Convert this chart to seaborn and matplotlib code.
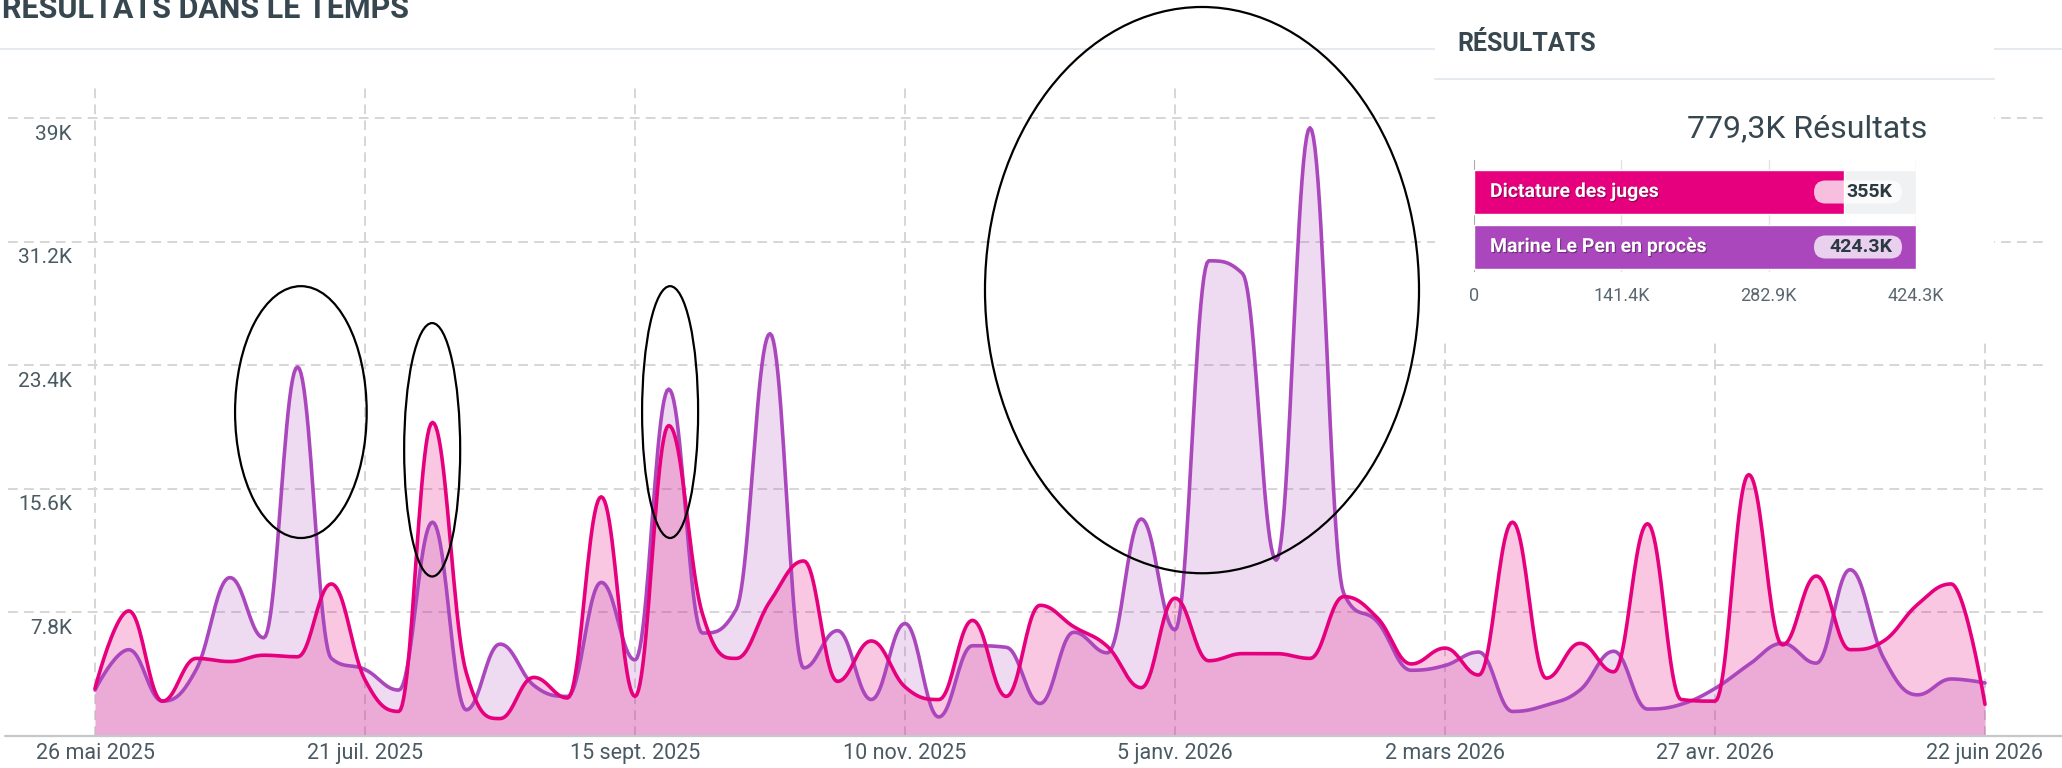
import numpy as np
import pandas as pd
import matplotlib
matplotlib.use("Agg")
import matplotlib.pyplot as plt
import matplotlib.dates as mdates
import matplotlib.patheffects as pe
from matplotlib.patches import Ellipse, Rectangle, FancyBboxPatch
from matplotlib.lines import Line2D
from matplotlib.transforms import IdentityTransform
import seaborn as sns

# weekly data, 26 mai 2025 -> 22 juin 2026
dates = pd.date_range("2025-05-26", "2026-06-22", freq="7D")

# "Dictature des juges" (K results per week)
dictature = [3.0, 7.9, 2.2, 4.9, 4.7, 5.1, 5.0, 9.6, 3.55, 1.55,
             19.8, 4.0, 1.1, 3.7, 2.4, 15.1, 2.5, 19.6, 7.7, 4.9,
             8.5, 11.05, 3.45, 6.0, 3.1, 2.3, 7.3, 2.5, 8.25, 6.9,
             5.65, 3.05, 8.7, 4.75, 5.2, 5.2, 4.9, 8.8, 7.45, 4.55,
             5.55, 3.85, 13.5, 3.65, 5.85, 4.05, 13.4, 2.3, 2.2, 16.5,
             5.75, 10.1, 5.45, 6.0, 8.3, 9.6, 2.0]
# "Marine Le Pen en procès"
marine = [2.9, 5.45, 2.2, 4.2, 10.0, 6.2, 23.3, 4.9, 4.2, 2.9,
          13.5, 1.65, 5.8, 3.2, 2.5, 9.7, 4.8, 21.9, 6.5, 8.0,
          25.4, 4.3, 6.65, 2.3, 7.1, 1.2, 5.7, 5.6, 2.05, 6.55,
          5.25, 13.7, 6.7, 30.0, 29.2, 11.1, 38.4, 9.0, 7.2, 4.15,
          4.45, 5.3, 1.55, 1.95, 2.9, 5.35, 1.7, 2.0, 3.0, 4.5,
          5.85, 4.6, 10.5, 4.9, 2.6, 3.6, 3.35]

names = ["Dictature des juges", "Marine Le Pen en procès"]
totals = [355000, 424300]
total_labels = ["355K", "424.3K"]
bar_ticks = [0, 141400, 282900, 424300]
bar_tick_labels = ["0", "141.4K", "282.9K", "424.3K"]

tick_labels = ["26 mai 2025", "21 juil. 2025", "15 sept. 2025", "10 nov. 2025",
               "5 janv. 2026", "2 mars 2026", "27 avr. 2026", "22 juin 2026"]
y_ticks = [7800, 15600, 23400, 31200, 39000]
y_tick_labels = ["7.8K", "15.6K", "23.4K", "31.2K", "39K"]

# hand-drawn circles: (week, value, width in weeks, height)
circles = [(6.1, 20450, 3.9, 15900), (9.99, 18070, 1.66, 16000),
           (17.04, 20450, 1.66, 15900), (32.8, 28150, 12.86, 35750)]

PINK = "#e6007e"
PURPLE = "#ab47bc"
TXT = "#37474f"
GRID = "#d6d6d6"


def hc_spline(x, y, smoothing=1.5, n=24):
    # same control points as a highcharts 'spline' series
    x = np.asarray(x, float)
    y = np.asarray(y, float)
    lcx, lcy, rcx, rcy = x.copy(), y.copy(), x.copy(), y.copy()
    d = smoothing + 1
    for i in range(1, len(x) - 1):
        px, py = x[i], y[i]
        lx = (smoothing * px + x[i - 1]) / d
        ly = (smoothing * py + y[i - 1]) / d
        rx = (smoothing * px + x[i + 1]) / d
        ry = (smoothing * py + y[i + 1]) / d
        if rx != lx:
            corr = (ry - ly) * (rx - px) / (rx - lx) + py - ry
            ly += corr
            ry += corr
        if ly > y[i - 1] and ly > py:
            ly = max(y[i - 1], py); ry = 2 * py - ly
        elif ly < y[i - 1] and ly < py:
            ly = min(y[i - 1], py); ry = 2 * py - ly
        if ry > y[i + 1] and ry > py:
            ry = max(y[i + 1], py); ly = 2 * py - ry
        elif ry < y[i + 1] and ry < py:
            ry = min(y[i + 1], py); ly = 2 * py - ry
        lcx[i], lcy[i], rcx[i], rcy[i] = lx, ly, rx, ry
    t = np.linspace(0, 1, n)[:, None]
    out = []
    for i in range(1, len(x)):
        p0 = np.array([x[i - 1], y[i - 1]])
        p1 = np.array([rcx[i - 1], rcy[i - 1]])
        p2 = np.array([lcx[i], lcy[i]])
        p3 = np.array([x[i], y[i]])
        seg = ((1 - t) ** 3) * p0 + 3 * ((1 - t) ** 2) * t * p1 + 3 * (1 - t) * t ** 2 * p2 + t ** 3 * p3
        out.append(seg if i == 1 else seg[1:])
    out = np.vstack(out)
    return out[:, 0], out[:, 1]


sns.set_theme(style="white")
plt.rcParams["font.family"] = ["Roboto", "DejaVu Sans"]

W, H = 2062, 768
fig = plt.figure(figsize=(W / 100, H / 100), dpi=100)


def fx(px):
    return px / W


def fy(py):
    return 1 - py / H


ax = fig.add_axes([fx(8), fy(736), 2040 / W, 651 / H])
ax.patch.set_visible(False)

xs = mdates.date2num(dates)
x0 = xs[0]
pxd = 33.75 / 7  # pixels per day

frames = []
curves = {}
for name, vals in [(names[1], marine), (names[0], dictature)]:
    sx, sy = hc_spline(xs, np.array(vals) * 1000)
    curves[name] = (sx, sy)
    frames.append(pd.DataFrame({"x": sx, "value": sy, "serie": name}))
df = pd.concat(frames, ignore_index=True)

ax.fill_between(*curves[names[1]], 0, color=PURPLE, alpha=0.2, lw=0, zorder=1)
ax.fill_between(*curves[names[0]], 0, color=PINK, alpha=0.22, lw=0, zorder=1.1)
sns.lineplot(data=df, x="x", y="value", hue="serie",
             hue_order=[names[1], names[0]], palette=[PURPLE, PINK],
             estimator=None, sort=False, lw=2.6, legend=False, ax=ax, zorder=3)

ax.set_xlim(x0 - 87 / pxd, x0 + 1953 / pxd)
ax.set_ylim(0, 41100)
ax.set_xticks(xs[::8])
ax.set_xticklabels(tick_labels, fontsize=15.5, color="#4a5a63")
ax.set_yticks(y_ticks)
ax.tick_params(axis="x", length=0, pad=5)
ax.tick_params(axis="y", length=0, labelleft=False)
ax.set_xlabel("")
ax.set_ylabel("")
ax.grid(True, color=GRID, lw=1.4, ls=(0, (5, 3.2)))
ax.set_axisbelow(True)
for s in ax.spines.values():
    s.set_visible(False)

for val, lab in zip(y_ticks, y_tick_labels):
    ax.annotate(lab, xy=((72 - 8) / 2040, val), xycoords=ax.get_yaxis_transform(),
                xytext=(0, -11.5), textcoords="offset points",
                ha="right", va="center", fontsize=15, color="#4a5a63")

for wk, val, w, h in circles:
    ax.add_patch(Ellipse((x0 + wk * 7, val), w * 7, h, fill=False,
                         ec="black", lw=1.6, clip_on=False, zorder=6))

# x axis line and title (the title is cut by the top edge, as in the original)
fig.add_artist(Line2D([fx(5), 1], [fy(736), fy(736)], color="#c3c8cb", lw=1.6,
                      transform=fig.transFigure, zorder=0.5))
fig.add_artist(Line2D([0, 1], [fy(49), fy(49)], color="#e6e9ed", lw=1.5,
                      transform=fig.transFigure, zorder=-1))
fig.text(fx(2), fy(18), "RÉSULTATS DANS LE TEMPS", fontsize=22, fontweight="bold",
         color=TXT, ha="left", va="baseline")

# results panel
fig.add_artist(Rectangle((1435, H - 340), 559, 332, fc="white", ec="none",
                         transform=IdentityTransform(), zorder=1))
fig.add_artist(Line2D([fx(1435), fx(1994)], [fy(79), fy(79)], color="#e6e9ed", lw=1.5,
                      transform=fig.transFigure, zorder=2))
fig.text(fx(1457), fy(44), "RÉSULTATS", fontsize=18, fontweight="bold",
         color=TXT, ha="left", va="center", zorder=3)
fig.text(fx(1927), fy(129), "779,3K Résultats", fontsize=23, fontweight="normal",
         color=TXT, ha="right", va="center", zorder=3)

axb = fig.add_axes([fx(1474), fy(272), 442 / W, 112 / H])
axb.set_zorder(5)
axb.patch.set_visible(False)
axb.barh([0], [bar_ticks[-1]], height=0.8, color="#f0f1f3", zorder=0.8)
sns.barplot(x=totals, y=names, hue=names, palette=[PINK, PURPLE], orient="h",
            width=0.8, saturation=1, legend=False, ax=axb, zorder=1)
axb.set_xlim(0, bar_ticks[-1])
axb.set_ylim(1 + 25 / 55, -32 / 55)
axb.set_xticks(bar_ticks)
axb.set_xticklabels(bar_tick_labels)
axb.tick_params(axis="x", length=0, pad=11, labelsize=13, labelcolor="#5a6770")
axb.tick_params(axis="y", length=0, labelleft=False)
axb.set_xlabel("")
axb.set_ylabel("")
axb.grid(axis="x", color="#e2e2e2", lw=1)
axb.grid(axis="y", visible=False)
axb.set_axisbelow(True)
axb.axvline(0, color="#a9a9a9", lw=1.4, zorder=0.6)
for s in axb.spines.values():
    s.set_visible(False)

shadow = [pe.SimplePatchShadow(offset=(0.8, -0.8), shadow_rgbFace="black", alpha=0.35), pe.Normal()]
for i, (name, lab) in enumerate(zip(names, total_labels)):
    cy = 192 + 55 * i
    fig.text(fx(1490), fy(cy), name, fontsize=14, fontweight="bold", color="white",
             ha="left", va="center", zorder=7, path_effects=shadow)
    fig.add_artist(FancyBboxPatch((1814, H - cy - 11.5), 88, 23,
                                  boxstyle="round,pad=0,rounding_size=11.5",
                                  fc="white", alpha=0.75, ec="none",
                                  transform=IdentityTransform(), zorder=6))
    fig.text(fx(1892), fy(cy), lab, fontsize=14, fontweight="bold", color="#2b3a42",
             ha="right", va="center", zorder=7)

fig.savefig("out.png", dpi=100)
